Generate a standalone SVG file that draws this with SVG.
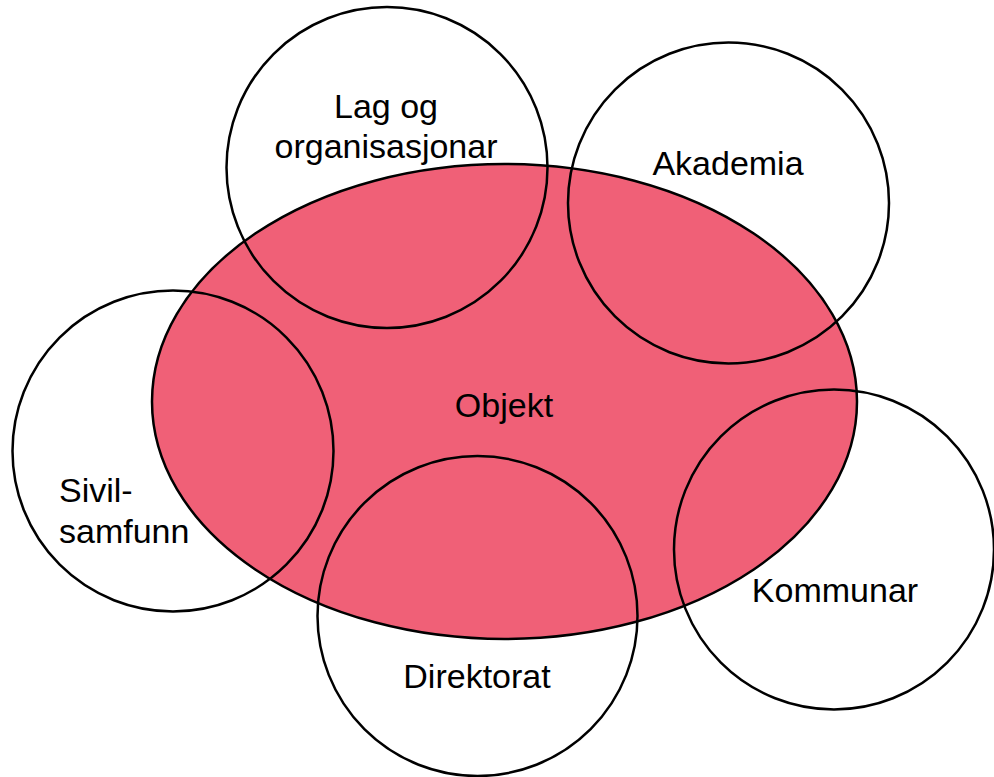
<svg xmlns="http://www.w3.org/2000/svg" width="994" height="777" viewBox="0 0 994 777">
<style>
.c{fill:none;stroke:#000;stroke-width:2.5}
.t{font-family:"Liberation Sans",Arial,sans-serif;font-size:34px;fill:#000;text-anchor:middle}
</style>
<rect width="994" height="777" fill="#fff"/>
<g id="objekt">
<ellipse cx="504.5" cy="401.5" rx="352.5" ry="237.5" fill="#F06077" stroke="#000" stroke-width="2.5"/>
<text class="t" x="504" y="417">Objekt</text>
</g>
<g id="lag">
<circle class="c" cx="387" cy="167.5" r="160.5"/>
<text class="t" x="386" y="118">Lag og</text>
<text class="t" x="386" y="158">organisasjonar</text>
</g>
<g id="akademia">
<circle class="c" cx="728.5" cy="203" r="160.5"/>
<text class="t" x="728" y="175">Akademia</text>
</g>
<g id="sivil">
<circle class="c" cx="173" cy="451" r="160.5"/>
<text class="t" x="59" y="502" style="text-anchor:start">Sivil-</text>
<text class="t" x="59" y="543" style="text-anchor:start">samfunn</text>
</g>
<g id="direktorat">
<circle class="c" cx="477.5" cy="616" r="160"/>
<text class="t" x="477" y="688">Direktorat</text>
</g>
<g id="kommunar">
<circle class="c" cx="834" cy="549.5" r="160"/>
<text class="t" x="835" y="602">Kommunar</text>
</g>
<g id="connectors"/>
</svg>
